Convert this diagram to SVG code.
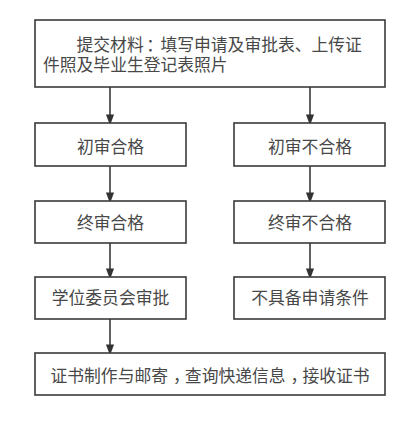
<svg xmlns="http://www.w3.org/2000/svg" width="414" height="422" viewBox="0 0 414 422">
<style>
.box{fill:#fff;stroke:#3a3a3a;stroke-width:1.6}
.t{font-family:"Noto Sans CJK SC","Noto Sans",sans-serif;font-size:16.8px;fill:#484848}
.c{text-anchor:middle}
.ln{stroke:#3a3a3a;stroke-width:1.6;fill:none}
</style>
<defs>
<marker id="ah" markerWidth="11" markerHeight="15" refX="11" refY="5.5" orient="auto" markerUnits="userSpaceOnUse" viewBox="0 0 15 11">
<path d="M0,0 L15,5.5 L0,11 Z" fill="#333"/>
</marker>
</defs>
<rect width="414" height="422" fill="#fff"/>
<g id="connectors">
<line class="ln" x1="110" y1="87" x2="110" y2="122.5" marker-end="url(#ah)"/>
<line class="ln" x1="310" y1="87" x2="310" y2="122.5" marker-end="url(#ah)"/>
<line class="ln" x1="110" y1="166" x2="110" y2="200.5" marker-end="url(#ah)"/>
<line class="ln" x1="310" y1="166" x2="310" y2="200.5" marker-end="url(#ah)"/>
<line class="ln" x1="110" y1="243" x2="110" y2="276.5" marker-end="url(#ah)"/>
<line class="ln" x1="310" y1="243" x2="310" y2="276.5" marker-end="url(#ah)"/>
<line class="ln" x1="110" y1="319" x2="110" y2="352.5" marker-end="url(#ah)"/>
</g>
<g id="n-submit">
<rect class="box" x="35" y="20" width="350" height="67"/>
<text class="t" x="76.5" y="51" dx="0 0 0 0 2.5 -2.5">提交材料：填写申请及审批表、上传证</text>
<text class="t" x="43" y="70.5">件照及毕业生登记表照片</text>
</g>
<g id="n-first-pass">
<rect class="box" x="35" y="123" width="151" height="43"/>
<text class="t c" x="110.5" y="152.5">初审合格</text>
</g>
<g id="n-first-fail">
<rect class="box" x="234" y="123" width="151" height="43"/>
<text class="t c" x="310" y="152.5">初审不合格</text>
</g>
<g id="n-final-pass">
<rect class="box" x="35" y="201" width="151" height="42"/>
<text class="t c" x="110.5" y="229">终审合格</text>
</g>
<g id="n-final-fail">
<rect class="box" x="234" y="201" width="151" height="42"/>
<text class="t c" x="310" y="229">终审不合格</text>
</g>
<g id="n-committee">
<rect class="box" x="35" y="277" width="151" height="42"/>
<text class="t c" x="110.5" y="304">学位委员会审批</text>
</g>
<g id="n-ineligible">
<rect class="box" x="234" y="277" width="151" height="42"/>
<text class="t c" x="310" y="304">不具备申请条件</text>
</g>
<g id="n-certificate">
<rect class="box" x="35" y="353" width="350" height="42"/>
<text class="t c" x="210" y="382" dx="0 0 0 0 0 0 0 5 -5 0 0 0 0 0 5 -5">证书制作与邮寄，查询快递信息，接收证书</text>
</g>
</svg>
